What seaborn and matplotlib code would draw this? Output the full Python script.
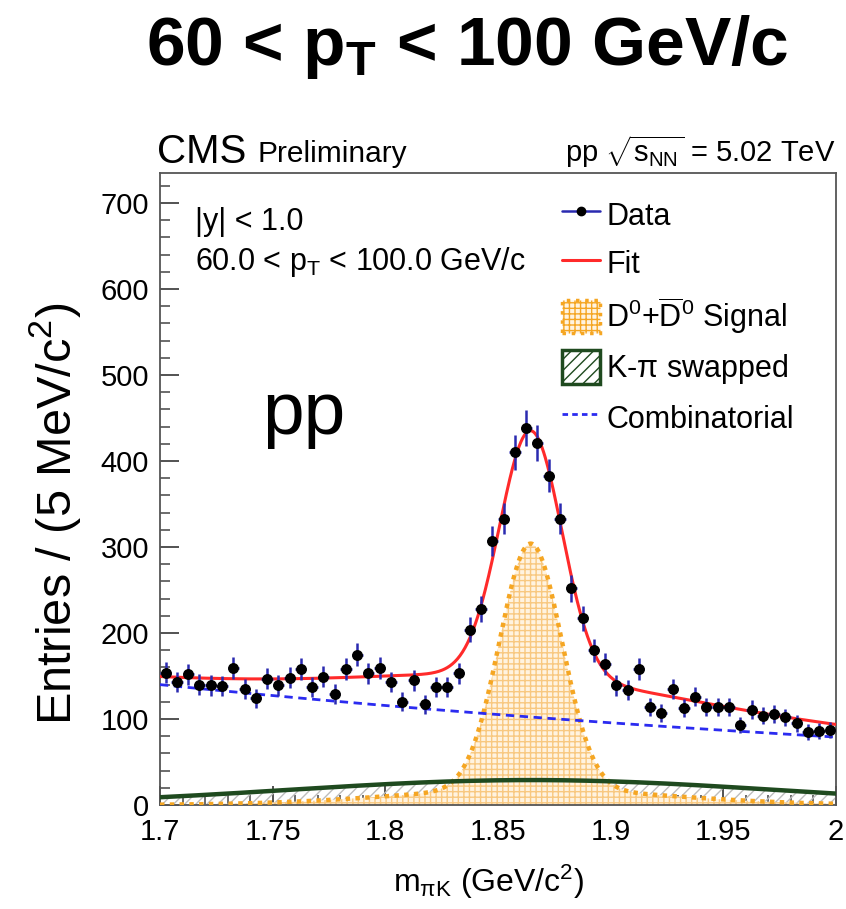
import numpy as np
import pandas as pd
import matplotlib
matplotlib.use("Agg")
import matplotlib.pyplot as plt
import seaborn as sns
from matplotlib.lines import Line2D
from matplotlib.patches import Patch

# ---------------- data ----------------
bin_width = 0.005
mass_lo, mass_hi = 1.7, 2.0
counts = [154, 143, 152, 140, 139, 138, 159, 135, 124, 147,
          139, 148, 158, 137, 149, 129, 158, 175, 153, 159,
          143, 120, 145, 117, 137, 137, 153, 204, 228, 307,
          333, 410, 438, 421, 383, 333, 252, 217, 180, 164,
          139, 134, 158, 114, 107, 135, 113, 126, 114, 114,
          114, 93, 111, 104, 106, 102, 95, 85, 86, 87]
x_ticks = [1.7, 1.75, 1.8, 1.85, 1.9, 1.95, 2.0]
x_tick_labels = ["1.7", "1.75", "1.8", "1.85", "1.9", "1.95", "2"]
y_ticks = [0, 100, 200, 300, 400, 500, 600, 700]

# fit model parameters
sig_mean = 1.8645
sig_core_amp, sig_core_sigma = 286.0, 0.0138
sig_wide_amp, sig_wide_sigma = 18.0, 0.060
swap_amp, swap_mean, swap_sigma = 29.0, 1.865, 0.108
bkg_amp, bkg_slope = 140.0, -1.907

# ---------------- derived ----------------
centers = mass_lo + bin_width * (np.arange(len(counts)) + 0.5)
df = pd.DataFrame({"m": centers, "n": counts})
df["err"] = np.sqrt(df["n"])

mgrid = np.linspace(mass_lo, mass_hi, 801)
signal = (sig_core_amp * np.exp(-0.5 * ((mgrid - sig_mean) / sig_core_sigma) ** 2)
          + sig_wide_amp * np.exp(-0.5 * ((mgrid - sig_mean) / sig_wide_sigma) ** 2))
swapped = swap_amp * np.exp(-0.5 * ((mgrid - swap_mean) / swap_sigma) ** 2)
bkg = bkg_amp * np.exp(bkg_slope * (mgrid - mass_lo))
total = signal + swapped + bkg
curves = pd.DataFrame({"m": mgrid, "total": total, "bkg": bkg,
                       "signal": signal, "swapped": swapped})

# ---------------- style ----------------
sns.set_theme(style="white")
plt.rcParams["font.family"] = ["Liberation Sans", "DejaVu Sans"]
plt.rcParams["mathtext.fontset"] = "custom"
plt.rcParams["mathtext.rm"] = "Liberation Sans"
plt.rcParams["mathtext.it"] = "Liberation Sans:italic"
plt.rcParams["mathtext.bf"] = "Liberation Sans:bold"
plt.rcParams["hatch.linewidth"] = 1.0
plt.rcParams["text.color"] = "black"
plt.rcParams["axes.labelcolor"] = "black"
plt.rcParams["xtick.labelcolor"] = "black"
plt.rcParams["ytick.labelcolor"] = "black"

fig = plt.figure(figsize=(8.46, 9.09), dpi=100)
ax = fig.add_axes([160 / 846, 1 - 805 / 909, (836 - 160) / 846, (805 - 173) / 909])

orange = "#f5a623"
green = "#1f4a1f"
blue_line = "#2b2bf0"
red = "#ff2a2a"
err_blue = "#2a2ab0"

# swapped component (hatched)
ax.fill_between(curves["m"], 0, curves["swapped"], facecolor="none",
                edgecolor="#bdbdbd", hatch="///", linewidth=0, zorder=1)
# signal (grid fill)
ax.fill_between(curves["m"], 0, curves["signal"], facecolor="#fff3e0",
                edgecolor="#f8c880", hatch="+++", linewidth=0, zorder=2)
sns.lineplot(data=curves, x="m", y="signal", ax=ax, color=orange,
             linestyle=(0, (1, 1.2)), linewidth=3.2, zorder=3)
sns.lineplot(data=curves, x="m", y="swapped", ax=ax, color=green,
             linewidth=3.2, zorder=4)
sns.lineplot(data=curves, x="m", y="bkg", ax=ax, color=blue_line,
             linestyle=(0, (3, 2)), linewidth=2.0, zorder=5)
sns.lineplot(data=curves, x="m", y="total", ax=ax, color=red,
             linewidth=2.2, zorder=6)

ax.errorbar(df["m"], df["n"], yerr=df["err"], xerr=bin_width / 2, fmt="none",
            ecolor=err_blue, elinewidth=1.8, capsize=0, zorder=7)
sns.scatterplot(data=df, x="m", y="n", ax=ax, color="black", s=62,
                edgecolor="black", linewidth=0, zorder=8)

ax.set_xlim(mass_lo, mass_hi)
ax.set_ylim(0, 735)
ax.set_xticks(x_ticks)
ax.set_xticklabels(x_tick_labels)
ax.set_yticks(y_ticks)
ax.set_xticks(np.arange(1.70, 2.0001, 0.01), minor=True)
ax.set_yticks(np.arange(0, 735, 20), minor=True)
ax.tick_params(axis="both", which="major", direction="in", length=14, width=1.3,
               labelsize=21, color="#444444", pad=8, top=False, right=False,
               bottom=True, left=True)
ax.tick_params(axis="both", which="minor", direction="in", length=7, width=1.1,
               color="#444444", top=False, right=False, bottom=True, left=True)
ax.tick_params(axis="x", which="major", pad=9)
for s in ax.spines.values():
    s.set_color("#555555")
    s.set_linewidth(1.3)

ax.set_xlabel(r"m$_{\mathrm{\pi K}}$ (GeV/c$^{2}$)", fontsize=23)
ax.set_ylabel(r"Entries / (5 MeV/c$^{2}$)", fontsize=35)
ax.xaxis.set_label_coords((489 - 160) / 676, -(863 - 805) / 632)
ax.yaxis.set_label_coords((83 - 160) / 676, (805 - 514) / 632)

# texts
fig.text(467 / 846, 1 - 47 / 909, r"60 < p$_{\mathbf{T}}$ < 100 GeV/c",
         ha="center", va="center", fontsize=50, fontweight="bold")
fig.text(157 / 846, 1 - 152 / 909, "CMS", ha="left", va="center", fontsize=29)
fig.text(257 / 846, 1 - 154 / 909, "Preliminary", ha="left", va="center", fontsize=21.5)
fig.text(835 / 846, 1 - 152 / 909, r"pp $\sqrt{\mathrm{s}_{\mathrm{NN}}}$ = 5.02 TeV",
         ha="right", va="center", fontsize=21)
fig.text(195 / 846, 1 - 222 / 909, "|y| < 1.0", ha="left", va="center", fontsize=22)
fig.text(195 / 846, 1 - 262 / 909, r"60.0 < p$_{\mathrm{T}}$ < 100.0 GeV/c",
         ha="left", va="center", fontsize=22)
fig.text(304 / 846, 1 - 415 / 909, "pp", ha="center", va="center", fontsize=54)

# legend
handles = [
    Line2D([0], [0], color=err_blue, linewidth=1.8, marker="o",
           markerfacecolor="black", markeredgecolor="black", markersize=6),
    Line2D([0], [0], color=red, linewidth=2.2),
    Patch(facecolor="#fff3e0", edgecolor=orange, hatch="+++",
          linestyle=":", linewidth=2.5),
    Patch(facecolor="white", edgecolor=green, hatch="///", linewidth=2.5),
    Line2D([0], [0], color=blue_line, linewidth=2.0, linestyle=(0, (2, 1.5))),
]
labels = ["Data", "Fit", r"D$^{0}$+$\overline{\mathrm{D}}^{0}$ Signal",
          r"K-$\mathrm{\pi}$ swapped", "Combinatorial"]
leg = ax.legend(handles, labels, loc="upper left",
                bbox_to_anchor=(562 / 846, 1 - 198 / 909),
                bbox_transform=fig.transFigure, frameon=False, fontsize=22,
                handlelength=1.25, handleheight=1.3, handletextpad=0.2,
                labelspacing=0.48, borderpad=0, borderaxespad=0)

fig.savefig("out.png", dpi=100)
